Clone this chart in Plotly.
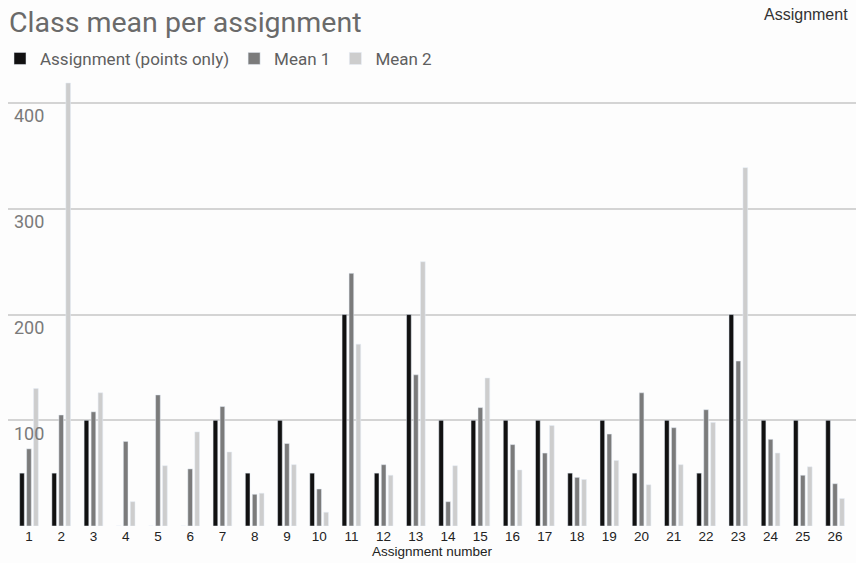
import plotly.graph_objects as go

assignments = [str(i) for i in range(1, 27)]
points_only = [50, 50, 100, 0, 0, 0, 100, 50, 100, 50, 200, 50, 200, 100, 100, 100, 100, 50, 100, 50, 100, 50, 200, 100, 100, 100]
mean1 = [73, 105, 108, 80, 124, 54, 113, 30, 78, 35, 239, 58, 143, 23, 112, 77, 69, 46, 87, 126, 93, 110, 156, 82, 48, 40]
mean2 = [130, 419, 126, 23, 57, 89, 70, 31, 58, 13, 172, 48, 250, 57, 140, 53, 95, 44, 62, 39, 58, 98, 339, 69, 56, 26]
y_ticks = [100, 200, 300, 400]
y_range = [0, 420]

fig = go.Figure()
fig.add_trace(go.Bar(x=assignments, y=points_only, name="Assignment (points only)", marker_color="#111111"))
fig.add_trace(go.Bar(x=assignments, y=mean1, name="Mean 1", marker_color="#7b7b7b"))
fig.add_trace(go.Bar(x=assignments, y=mean2, name="Mean 2", marker_color="#cdcdcd"))
# carrier trace on a twin subplot that only carries the inside value labels
fig.add_trace(go.Scatter(x=[assignments[0]], y=[None], xaxis="x2", yaxis="y2", showlegend=False,
                         hoverinfo="skip", mode="markers"))

fig.update_layout(
    width=856, height=563,
    margin=dict(l=7, r=0, t=82, b=37),
    paper_bgcolor="#fdfdfd", plot_bgcolor="rgba(0,0,0,0)",
    barmode="group", bargap=0.35, bargroupgap=0.33,
    title=dict(text="Class mean per assignment", x=0, xref="paper", xanchor="left", y=0.978, yref="container",
               yanchor="top", font=dict(family="Roboto", size=28.5, color="#6a6a6a"), pad=dict(l=1)),
    legend=dict(orientation="h", x=-0.009, xanchor="left", y=1.052, yanchor="middle",
                font=dict(family="Roboto", size=17, color="#5f5f5f"), bgcolor="rgba(0,0,0,0)"),
    xaxis=dict(type="category", range=[-0.65, 25.65], showgrid=False, showline=False, ticks="",
               tickfont=dict(family="Liberation Sans", size=13.5, color="#222222"),
               title=dict(text="Assignment number", font=dict(family="Liberation Sans", size=13.5, color="#222222"), standoff=4)),
    yaxis=dict(range=y_range, tickvals=y_ticks, showgrid=True, gridcolor="#d4d4d4", gridwidth=2,
               zeroline=False, showline=False, showticklabels=False),
    xaxis2=dict(domain=[0, 1], anchor="y2", visible=False, type="category", range=[-0.65, 25.65]),
    yaxis2=dict(domain=[0, 1], anchor="x2", range=y_range, tickvals=y_ticks,
                showgrid=False, zeroline=False, showline=False,
                ticklabelposition="inside", ticklabelstandoff=3, ticklabelshift=13,
                tickfont=dict(family="Roboto", size=18, color="#7a7a7a")),
    annotations=[dict(text="Assignment", xref="paper", yref="paper", x=1, y=1.153, xanchor="right", yanchor="middle",
                      showarrow=False, xshift=-6, font=dict(family="Liberation Sans", size=16, color="#333333"))],
)

fig.write_html("out.html", config={"displayModeBar": False},
               post_script="document.body.style.margin='0';document.body.style.overflow='hidden';")
